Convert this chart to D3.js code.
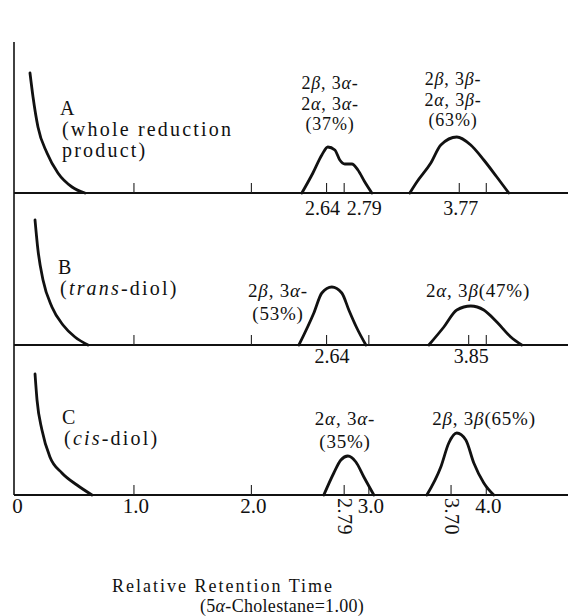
<!DOCTYPE html>
<html><head><meta charset="utf-8">
<script src="https://cdn.jsdelivr.net/npm/d3@7"></script>
<style>body{margin:0;background:#fff}svg{display:block}text{font-family:"Liberation Serif","DejaVu Serif",serif;fill:#111}</style>
</head><body>
<svg id="c" width="568" height="616"></svg>
<script>
// ---------- DATA (relative retention time, detector response in arbitrary units) ----------
const panels = ["A", "B", "C"];
const panelNames = [["A", "(whole reduction", "product)"], ["B", "({trans}-diol)"], ["C", "({cis}-diol)"]];
const solventA = [[0.119,120],[0.145,96],[0.187,66],[0.264,40],[0.357,20],[0.477,6],[0.587,0]];
const peakA1 = [[2.434,0],[2.528,20],[2.604,38],[2.655,46],[2.715,43],[2.757,33],[2.8,29],[2.86,29],[2.911,23],[2.97,11],[3.03,0]];
const peakA2 = [[3.353,0],[3.413,11],[3.532,30],[3.617,48],[3.753,56],[3.872,48],[3.983,33],[4.094,16],[4.196,0]];
const solventB = [[0.162,125],[0.187,95],[0.23,65],[0.306,38],[0.4,20],[0.502,8],[0.613,0]];
const peakB1 = [[2.409,0],[2.536,32],[2.604,52],[2.689,58],[2.774,52],[2.834,35],[2.902,17],[2.979,0]];
const peakB2 = [[3.515,0],[3.643,18],[3.753,35],[3.872,39],[3.983,35],[4.094,23],[4.213,8],[4.306,0]];
const solventC = [[0.162,121],[0.179,95],[0.221,65],[0.289,38],[0.391,22],[0.519,10],[0.647,0]];
const peakC1 = [[2.621,0],[2.706,22],[2.766,35],[2.826,39],[2.894,33],[2.962,18],[3.047,0]];
const peakC2 = [[3.498,0],[3.617,28],[3.685,52],[3.753,62],[3.83,55],[3.898,32],[3.983,12],[4.068,0]];
const markA = [1.0, 2.0, 2.64, 2.79, 3.77, 4.0];
const markB = [1.0, 2.0, 2.64, 3.0, 3.85, 4.0];
const markC = [1.0, 2.0, 2.79, 3.0, 3.70, 4.0];
const retLabelsA = [2.64, 2.79, 3.77];
const retLabelsB = [2.64, 3.85];
const retLabelsC = [2.79, 3.70];
const axisTicks = [0, 1, 2, 3, 4];
const annA = [["2β, 3α-", "2α, 3α-", "(37%)"], ["2β, 3β-", "2α, 3β-", "(63%)"]];
const annB = [["2β, 3α-", "(53%)"], ["2α, 3β(47%)"]];
const annC = [["2α, 3α-", "(35%)"], ["2β, 3β(65%)"]];
const xTitle = ["Relative Retention Time", "(5α-Cholestane=1.00)"];

// ---------- LAYOUT ----------
const svg = d3.select("#c");
const W = 568;
const x = d3.scaleLinear().domain([0, 4.7]).range([16, 568]);
const baseY = {A: 193, B: 345, C: 495};
const yOf = p => d3.scaleLinear().domain([0, 130]).range([baseY[p], baseY[p] - 130]);
const traces = {A: [solventA, peakA1, peakA2], B: [solventB, peakB1, peakB2], C: [solventC, peakC1, peakC2]};
const marks = {A: markA, B: markB, C: markC};
const anns = {A: annA, B: annB, C: annC};
// annotation placement: [centre x, first baseline y] per group
const annPos = {A: [[330, 89], [453, 85]], B: [[278, 297], [478, 297]], C: [[345, 425], [484, 425]]};
const lineGap = {A: 20.5, B: 22.5, C: 22.5};
const annFont = {A: 18, B: 19, C: 19};
const namePos = {A: [60, 115], B: [58, 274], C: [62, 424]};

function rich(sel, str) {
  // {..} => italic ; Greek letters => italic
  const parts = [];
  let ital = false, buf = "";
  for (const ch of str) {
    if (ch === "{") { if (buf) parts.push([buf, ital]); buf = ""; ital = true; continue; }
    if (ch === "}") { if (buf) parts.push([buf, ital]); buf = ""; ital = false; continue; }
    const g = /[α-ω]/.test(ch);
    if (g && !ital) { if (buf) parts.push([buf, false]); parts.push([ch, true]); buf = ""; continue; }
    buf += ch;
  }
  if (buf) parts.push([buf, ital]);
  parts.forEach(([t, it]) => sel.append("tspan").attr("font-style", it ? "italic" : "normal").text(t));
}

// left vertical axis
svg.append("line").attr("x1", 14).attr("x2", 14).attr("y1", 42).attr("y2", baseY.C)
  .attr("stroke", "#111").attr("stroke-width", 1.6);

const line = d3.line().curve(d3.curveMonotoneX);

panels.forEach((p, i) => {
  const y = yOf(p);
  const g = svg.append("g");
  // baseline + upward marks
  const ax = d3.axisTop(x).tickValues(marks[p]).tickSize(10).tickFormat("").tickSizeOuter(0);
  const a = g.append("g").attr("transform", `translate(0,${baseY[p]})`).call(ax);
  a.select(".domain").attr("d", `M14,0H${W}`).attr("stroke", "#111").attr("stroke-width", 2);
  a.selectAll(".tick line").attr("stroke", "#222").attr("stroke-width", 1.1);
  // traces
  traces[p].forEach(tr => {
    g.append("path").attr("d", line.x(d => x(d[0])).y(d => y(d[1]))(tr))
      .attr("fill", "none").attr("stroke", "#111").attr("stroke-width", 2.8)
      .attr("stroke-linejoin", "round").attr("stroke-linecap", "round");
  });
  // panel names
  panelNames[i].forEach((t, k) => {
    const tx = g.append("text").attr("x", namePos[p][0] + (k ? 2 : 0)).attr("y", namePos[p][1] + k * 21)
      .attr("font-size", 20).attr("letter-spacing", k ? 2.2 : 0);
    rich(tx, t);
  });
  // peak annotations
  anns[p].forEach((grp, gi) => {
    grp.forEach((t, k) => {
      const tx = g.append("text").attr("x", annPos[p][gi][0]).attr("y", annPos[p][gi][1] + k * lineGap[p])
        .attr("text-anchor", "middle").attr("font-size", annFont[p]).attr("letter-spacing", 0.8);
      rich(tx, t);
    });
  });
});

// retention labels under baselines A and B
const labA = svg.append("g").attr("font-size", 20);
retLabelsA.forEach((v, k) => {
  const anchors = ["end", "start", "middle"], dx = [14, 3, 2];
  labA.append("text").attr("x", x(v) + dx[k]).attr("y", 215).attr("text-anchor", anchors[k]).text(v.toFixed(2));
});
retLabelsB.forEach((v, k) => {
  labA.append("text").attr("x", x(v) + (k ? 3 : 6)).attr("y", 363).attr("text-anchor", "middle").text(v.toFixed(2));
});

// bottom axis
const bax = d3.axisBottom(x).tickValues(axisTicks).tickSize(0).tickPadding(0)
  .tickFormat(d => d === 0 ? "0" : d3.format(".1f")(d));
const ba = svg.append("g").attr("transform", `translate(0,${baseY.C})`).call(bax);
ba.select(".domain").remove();
ba.selectAll("text").attr("font-size", 21).attr("fill", "#111").attr("y", 18).attr("dy", 0)
  .attr("font-family", "Liberation Serif").attr("dx", d => d === 0 ? 1 : 2);
// rotated retention labels in C
retLabelsC.forEach(v => {
  svg.append("text").attr("transform", `translate(${x(v) - 6},${498}) rotate(90)`)
    .attr("font-size", 20).attr("letter-spacing", 0.5).text(v.toFixed(2));
});

// x title
svg.append("text").attr("x", 112).attr("y", 592).attr("font-size", 18).attr("letter-spacing", 2).text(xTitle[0]);
const t2 = svg.append("text").attr("x", 200).attr("y", 612).attr("font-size", 18).attr("letter-spacing", 0.3);
rich(t2, xTitle[1]);
</script>
</body></html>
